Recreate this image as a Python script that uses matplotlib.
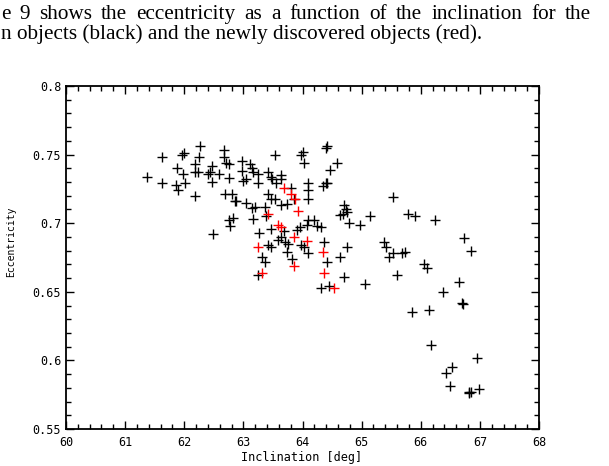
import matplotlib
matplotlib.use("Agg")
import matplotlib.pyplot as plt
from matplotlib.ticker import MultipleLocator, FuncFormatter

# known objects (black)
known_incl = [61.37, 61.63, 61.63, 61.88, 61.97, 62.00, 61.98, 61.86, 61.90, 62.02,
              62.19, 62.27, 62.25, 62.19, 62.19, 62.24, 62.41, 62.44, 62.47, 62.47,
              62.58, 62.68, 62.68, 62.71, 62.75, 62.75, 62.69, 62.81, 62.86, 62.49,
              62.75, 62.78, 62.83, 62.98, 62.97, 63.00, 63.05, 63.12, 63.15, 63.17,
              63.25, 63.25, 63.05, 62.88, 63.14, 63.19, 63.17, 63.27, 63.36, 63.42,
              63.46, 63.54, 63.42, 63.46, 63.54, 63.63, 63.64, 63.49, 63.56, 63.63,
              63.73, 63.81, 63.85, 63.39, 64.10, 64.10, 64.10, 63.47, 63.68, 63.90,
              63.95, 63.64, 63.59, 63.71, 63.75, 63.42, 63.46, 63.98, 64.02, 64.36,
              64.10, 63.83, 63.32, 63.37, 64.42, 63.24, 64.32, 64.44, 63.73, 64.63,
              64.10, 64.20, 64.25, 64.31, 64.07, 64.39, 64.42, 64.00, 63.98, 64.02,
              64.59, 64.47, 64.39, 64.42, 64.34, 65.53, 64.71, 64.73, 64.64, 64.69,
              64.76, 64.78, 64.98, 65.14, 65.78, 65.90, 66.24, 64.76, 65.37, 65.42,
              65.46, 65.53, 65.69, 65.73, 64.71, 65.05, 65.59, 66.05, 66.10, 66.73,
              66.85, 66.64, 66.37, 66.69, 66.71, 65.85, 66.14, 66.17, 66.95, 66.53,
              66.42, 66.49, 66.81, 66.85, 66.98, 66.81]
known_ecc = [0.734, 0.748, 0.729, 0.740, 0.750, 0.751, 0.736, 0.728, 0.724, 0.729,
             0.720, 0.756, 0.748, 0.743, 0.737, 0.737, 0.736, 0.737, 0.742, 0.730,
             0.736, 0.753, 0.748, 0.744, 0.743, 0.733, 0.721, 0.721, 0.716, 0.692,
             0.702, 0.698, 0.704, 0.745, 0.738, 0.731, 0.732, 0.743, 0.740, 0.737,
             0.736, 0.729, 0.715, 0.716, 0.711, 0.712, 0.703, 0.693, 0.712, 0.737,
             0.734, 0.750, 0.721, 0.718, 0.718, 0.735, 0.732, 0.732, 0.729, 0.713,
             0.714, 0.726, 0.718, 0.705, 0.729, 0.724, 0.718, 0.696, 0.694, 0.695,
             0.697, 0.690, 0.688, 0.686, 0.685, 0.684, 0.683, 0.684, 0.683, 0.686,
             0.678, 0.674, 0.675, 0.672, 0.672, 0.662, 0.653, 0.654, 0.679, 0.675,
             0.702, 0.702, 0.698, 0.697, 0.699, 0.755, 0.756, 0.752, 0.750, 0.744,
             0.744, 0.739, 0.729, 0.729, 0.727, 0.719, 0.713, 0.710, 0.706, 0.707,
             0.708, 0.700, 0.699, 0.705, 0.707, 0.705, 0.702, 0.683, 0.686, 0.683,
             0.675, 0.678, 0.678, 0.679, 0.661, 0.656, 0.662, 0.670, 0.667, 0.689,
             0.680, 0.657, 0.650, 0.642, 0.641, 0.635, 0.637, 0.611, 0.602, 0.595,
             0.591, 0.581, 0.577, 0.577, 0.579, 0.576]

# newly discovered objects (red)
new_incl = [63.69, 63.81, 63.88, 63.93, 63.42, 63.59, 63.63, 63.85, 64.07, 63.24,
            64.34, 63.86, 63.32, 64.36, 64.54]
new_ecc = [0.726, 0.721, 0.718, 0.709, 0.707, 0.699, 0.697, 0.690, 0.687, 0.683,
           0.679, 0.669, 0.664, 0.664, 0.653]

line1 = "e 9 shows the eccentricity as a function of the inclination for the"
line2 = "n objects (black) and the newly discovered objects (red)."

W, H = 609, 466
plt.rcParams["font.family"] = "DejaVu Sans Mono"

fig = plt.figure(figsize=(W / 100, H / 100), dpi=100)
ax = fig.add_axes([66 / W, 37 / H, 473 / W, 343 / H])

ax.plot(known_incl, known_ecc, "+", color="black", ms=7.5, mew=1.0)
ax.plot(new_incl, new_ecc, "+", color="red", ms=7.5, mew=1.0)

ax.set_xlim(60, 68)
ax.set_ylim(0.55, 0.8)
ax.xaxis.set_major_locator(MultipleLocator(1))
ax.xaxis.set_minor_locator(MultipleLocator(0.2))
ax.yaxis.set_major_locator(MultipleLocator(0.05))
ax.yaxis.set_minor_locator(MultipleLocator(0.01))
ax.yaxis.set_major_formatter(FuncFormatter(lambda v, p: "%g" % round(v, 2)))
ax.tick_params(which="both", direction="in", top=True, right=True,
               labelsize=8.5, width=1.0, colors="black")
ax.tick_params(which="major", length=6)
ax.tick_params(which="minor", length=3.5)
ax.tick_params(axis="x", pad=5)
for s in ax.spines.values():
    s.set_linewidth(1.3)

fig.text(302 / W, 1 - 461 / H, "Inclination [deg]", ha="center", va="baseline", fontsize=8.5)
fig.text(11 / W, 1 - 242 / H, "Eccentricity", ha="center", va="center",
         rotation=90, fontsize=7)

# paragraph text above the chart (first line justified)
serif = "Liberation Serif"
r = fig.canvas.get_renderer()
t = fig.text(0, 0, line2, fontsize=10, family=serif)
w2 = t.get_window_extent(r).width
t.remove()
fs = 10 * 480 / w2
fig.text(1 / W, 1 - 39.5 / H, line2, fontsize=fs, family=serif, va="baseline")

words = line1.split()
widths = []
for wd in words:
    t = fig.text(0, 0, wd, fontsize=fs, family=serif)
    widths.append(t.get_window_extent(r).width)
    t.remove()
gap = (591 - 1 - sum(widths)) / (len(words) - 1)
x = 1
for wd, ww in zip(words, widths):
    fig.text(x / W, 1 - 19 / H, wd, fontsize=fs, family=serif, va="baseline")
    x += ww + gap

fig.savefig("out.png", dpi=100)
